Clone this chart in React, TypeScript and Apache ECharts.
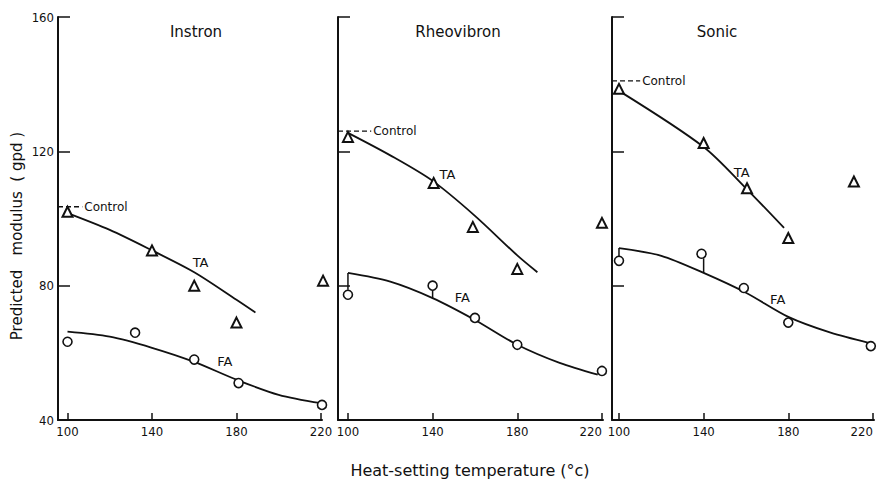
import React, { useEffect, useRef } from "react";
import * as echarts from "echarts";

// ---- data ----
const xTicks = [100, 140, 180, 220];
const panelNames = ["Instron", "Rheovibron", "Sonic"];
const xTitle = "Heat-setting temperature (°c)";
const yTitle = "Predicted   modulus  ( gpd )";

// Instron
const instronTAx = [100, 140, 160, 180, 221];
const instronTAy = [102, 90.5, 80, 69, 81.5];
const instronFAx = [100, 132, 160, 181, 220.5];
const instronFAy = [63.3, 66, 58, 51, 44.5];
const instronTAFitX = [100, 120, 140, 160, 180, 189];
const instronTAFitY = [101.6, 96.6, 90.5, 84, 75.8, 72];
const instronFAFitX = [100, 120, 140, 160, 180, 200, 220];
const instronFAFitY = [66.3, 64.8, 61.5, 57.3, 52, 47.5, 45];

// Rheovibron
const rheoTAx = [100, 140.5, 159, 180, 220];
const rheoTAy = [124.3, 110.6, 97.5, 85, 98.7];
const rheoFAx = [100, 140, 160, 180, 220];
const rheoFAy = [77.3, 80, 70.4, 62.4, 54.6];
const rheoTAFitX = [100, 120, 140, 160, 180, 189.5];
const rheoTAFitY = [125.5, 118.8, 111.2, 100.8, 89, 84];
const rheoFAFitX = [100, 120, 140, 160, 180, 200, 218];
const rheoFAFitY = [83.8, 81.2, 76.3, 69.8, 62.4, 57, 53.5];
const rheoStemX = [100, 140];
const rheoStemFrom = [83.8, 78.7];
const rheoStemTo = [78.8, 76.3];

// Sonic
const sonicTAx = [100, 140, 160.5, 180, 211];
const sonicTAy = [138.6, 122.5, 109, 94.2, 111];
const sonicFAx = [100, 139, 159, 180, 219];
const sonicFAy = [87.4, 89.5, 79.3, 69, 62];
const sonicTAFitX = [100, 140, 160, 178];
const sonicTAFitY = [138, 121.3, 109, 97.2];
const sonicFAFitX = [100, 120, 140, 160, 180, 200, 218];
const sonicFAFitY = [91.2, 88.9, 83.8, 77.9, 70.7, 66, 63];
const sonicStemX = [100, 140];
const sonicStemFrom = [91.2, 88.2];
const sonicStemTo = [88.7, 83.8];

// Control levels
const controlY = [103.5, 126, 141];
const controlEndX = [107, 111, 110];

// Curve label anchors
const taLabelX = [163, 147, 158];
const taLabelY = [87, 113, 113.6];
const faLabelX = [174.5, 154, 175];
const faLabelY = [57.3, 76.4, 76];

const FONT = "'DejaVu Sans', sans-serif";
const NARROW = "'Liberation Sans Narrow', 'DejaVu Sans Condensed', sans-serif";
const INK = "#111";

const zip = (xs: number[], ys: number[]) => xs.map((x, i) => [x, ys[i]]);

export default function App() {
  const ref = useRef<HTMLDivElement>(null);
  useEffect(() => {
    if (!ref.current) return;
    const chart = echarts.init(ref.current, undefined, { renderer: "svg" });

    const grids = [
      { left: 58, top: 17, width: 264, height: 403 },
      { left: 338, top: 17, width: 265, height: 403 },
      { left: 612, top: 17, width: 262, height: 403 },
    ].map((g) => ({ ...g, outerBoundsMode: "none", containLabel: false }));
    const xMin = [95.5, 95.3, 96.7];
    const xMax = [220.5, 220.5, 220.5];

    const xAxes = [0, 1, 2].map((i) => ({
      type: "value",
      gridIndex: i,
      min: xMin[i],
      max: xMax[i],
      axisLine: { show: true, onZero: false, lineStyle: { color: INK, width: 2 } },
      axisTick: { show: true, inside: true, length: 7, customValues: xTicks, lineStyle: { color: INK, width: 1.5 } },
      axisLabel: {
        show: true, customValues: xTicks, color: INK, fontSize: 13, fontFamily: NARROW, margin: 5,
        alignMaxLabel: i > 0 ? "right" : null,
      },
      splitLine: { show: false },
    }));
    const yAxes = [0, 1, 2].map((i) => ({
      type: "value",
      gridIndex: i,
      min: 40,
      max: 160,
      interval: 40,
      axisLine: { show: true, onZero: false, lineStyle: { color: INK, width: 2 } },
      axisTick: { show: true, inside: true, length: 12, lineStyle: { color: INK, width: 1.5 } },
      axisLabel: { show: i === 0, color: INK, fontSize: 13, fontFamily: NARROW, margin: 4 },
      splitLine: { show: false },
    }));

    const tri = (i: number, xs: number[], ys: number[]) => ({
      type: "scatter", xAxisIndex: i, yAxisIndex: i, data: zip(xs, ys),
      symbol: "triangle", symbolSize: 10, z: 5, clip: false,
      itemStyle: { color: "#fff", borderColor: INK, borderWidth: 2, opacity: 1 },
    });
    const circ = (i: number, xs: number[], ys: number[]) => ({
      type: "scatter", xAxisIndex: i, yAxisIndex: i, data: zip(xs, ys),
      symbol: "circle", symbolSize: 9, z: 5, clip: false,
      itemStyle: { color: "#fff", borderColor: INK, borderWidth: 1.6, opacity: 1 },
    });
    const curve = (i: number, xs: number[], ys: number[]) => ({
      type: "line", xAxisIndex: i, yAxisIndex: i, data: zip(xs, ys),
      smooth: 0.3, showSymbol: false, symbol: "none", z: 3,
      lineStyle: { color: INK, width: 1.8 },
    });
    const stems = (i: number, xs: number[], from: number[], to: number[]) =>
      xs.map((x, k) => ({
        type: "line", xAxisIndex: i, yAxisIndex: i,
        data: [[x, from[k]], [x, to[k]]], showSymbol: false, symbol: "none", z: 3,
        lineStyle: { color: INK, width: 1.5 },
      }));
    const control = (i: number) => ({
      type: "line", xAxisIndex: i, yAxisIndex: i,
      data: [[xMin[i], controlY[i]], [controlEndX[i], controlY[i]]],
      showSymbol: false, symbol: "none", z: 3,
      lineStyle: { color: INK, width: 1.3, type: [5, 3] },
      endLabel: { show: true, formatter: "Control", distance: 2, color: INK, fontSize: 12, fontFamily: FONT },
    });
    const tag = (i: number, x: number, y: number, text: string) => ({
      type: "scatter", xAxisIndex: i, yAxisIndex: i, data: [[x, y]],
      symbolSize: 0, z: 6,
      itemStyle: { opacity: 1 },
      label: {
        show: true, position: "inside", formatter: text, color: INK, fontSize: 13, fontFamily: FONT,
        textBorderWidth: 0,
      },
    });

    const series: any[] = [
      curve(0, instronTAFitX, instronTAFitY),
      curve(0, instronFAFitX, instronFAFitY),
      tri(0, instronTAx, instronTAy),
      circ(0, instronFAx, instronFAy),
      curve(1, rheoTAFitX, rheoTAFitY),
      curve(1, rheoFAFitX, rheoFAFitY),
      ...stems(1, rheoStemX, rheoStemFrom, rheoStemTo),
      tri(1, rheoTAx, rheoTAy),
      circ(1, rheoFAx, rheoFAy),
      curve(2, sonicTAFitX, sonicTAFitY),
      curve(2, sonicFAFitX, sonicFAFitY),
      ...stems(2, sonicStemX, sonicStemFrom, sonicStemTo),
      tri(2, sonicTAx, sonicTAy),
      circ(2, sonicFAx, sonicFAy),
    ];
    for (let i = 0; i < 3; i++) {
      series.push(control(i));
      series.push(tag(i, taLabelX[i], taLabelY[i], "TA"));
      series.push(tag(i, faLabelX[i], faLabelY[i], "FA"));
    }

    const titleX = [196, 458, 717];
    const graphic: any[] = panelNames.map((n, i) => ({
      type: "text", x: titleX[i], y: 32,
      style: { text: n, align: "center", verticalAlign: "middle", fontSize: 15, fontFamily: FONT, fill: INK },
    }));
    graphic.push({
      type: "text", x: 470, y: 470,
      style: { text: xTitle, align: "center", verticalAlign: "middle", fontSize: 16, fontFamily: FONT, fill: INK },
    });
    graphic.push({
      type: "text", x: 17, y: 236, rotation: Math.PI / 2,
      style: { text: yTitle, align: "center", verticalAlign: "middle", fontSize: 15, fontFamily: FONT, fill: INK },
    });

    chart.setOption({
      animation: false,
      backgroundColor: "#fff",
      grid: grids,
      xAxis: xAxes,
      yAxis: yAxes,
      series,
      graphic,
    });
    return () => chart.dispose();
  }, []);
  return (
    <div
      ref={ref}
      style={{ position: "fixed", left: 0, top: 0, width: 883, height: 479, background: "#fff" }}
    />
  );
}
